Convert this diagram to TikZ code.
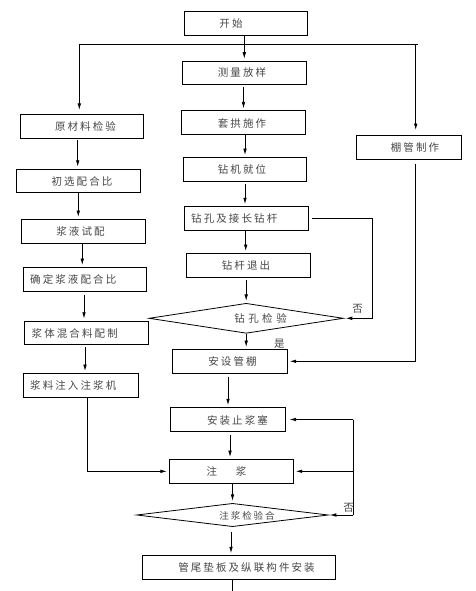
\documentclass[tikz,border=0pt]{standalone}
\usepackage{fontspec}
\newfontfamily\cjk[LetterSpace=20]{Noto Sans CJK SC}
\usetikzlibrary{arrows.meta,shapes.geometric}
\begin{document}
\begin{tikzpicture}[x=1pt,y=-1pt,
  box/.style={draw,line width=0.8pt,minimum width=#1,minimum height=23.7pt,inner sep=0pt},
  dia/.style={draw,shape=diamond,line width=0.8pt,minimum width=#1,inner sep=0pt},
  txt/.style={font=\cjk\fontsize{10.5}{12}\selectfont,text=black!72,inner sep=0pt},
  ln/.style={line width=0.8pt},
  arr/.style={line width=0.8pt,-{Latex[length=6.5pt,width=3.6pt]},shorten >=2pt}]
\fill[white] (0,0) rectangle (476,591);
\useasboundingbox (0,0) rectangle (476,591);

% ---- boxes (centre column)
\node[box=122.7pt] (start)   at (245.7,23.3) {};
\node[box=124pt]   (survey)  at (244.3,73)   {};
\node[box=123.7pt] (arch)    at (243.5,122.7){};
\node[box=122.7pt] (rig)     at (245,169.3)  {};
\node[box=124pt]   (drill)   at (246.3,218.5){};
\node[box=124.3pt] (retract) at (248.2,265.3){};
\node[dia=194.3pt,minimum height=30pt] (chk1) at (246.2,318.3) {};
\node[box=115pt]   (pipe)    at (229.8,361.3){};
\node[box=115.3pt] (plug)    at (228,419.5)  {};
\node[box=124pt]   (grout)   at (231.3,471.3){};
\node[dia=191.7pt,minimum height=23.3pt] (chk2) at (232.5,515) {};
\node[box=193pt]   (tail)    at (238.8,567.5){};
% ---- left column
\node[box=122.7pt] (raw)   at (82,126.2)  {};
\node[box=123.7pt] (init)  at (78.5,181)  {};
\node[box=124pt]   (trial) at (83.3,231.3){};
\node[box=123pt]   (fix)   at (84.8,279.3){};
\node[box=124pt]   (mix)   at (86.3,333)  {};
\node[box=115pt]   (load)  at (80.8,385.3){};
% ---- right column
\node[box=105pt]   (shed)  at (408.8,147.3){};

% ---- texts
\node[txt] (tstart)   at (231,23.3)   {开始};
\node[txt] (tsurvey)  at (242,73)     {测量放样};
\node[txt] (tarch)    at (242,123.5)  {套拱施作};
\node[txt] (trig)     at (242,169.8)  {钻机就位};
\node[txt,anchor=west] (tdrill) at (191,218.5) {钻孔及接长钻杆};
\node[txt] (tretract) at (246,265.5)  {钻杆退出};
\node[txt] (tchk1)    at (260.5,318.5){钻\kern3.5pt孔\kern3.5pt检\kern3.5pt验};
\node[txt] (tpipe)    at (232.5,361.5){安设管棚};
\node[txt] (tplug)    at (237.5,420)  {安装止浆塞};
\node[txt] (tgrout)   at (226.5,471.5){注\hspace{19pt}浆};
\node[txt,font=\cjk\fontsize{9.5}{11}\selectfont] (tchk2) at (247,516) {注浆检验合};
\node[txt] (ttail)    at (246.5,568)  {管尾垫板及纵联构件安装};
\node[txt] (traw)     at (85.5,126.5) {原材料检验};
\node[txt] (tinit)    at (82,181.5)   {初选配合比};
\node[txt] (ttrial)   at (80.5,231.5) {浆液试配};
\node[txt,anchor=west] (tfix)  at (30,279.5)   {确定浆液配合比};
\node[txt,anchor=west] (tmix)  at (31.5,333.3) {浆体混合料配制};
\node[txt,anchor=west] (tload) at (30,385.3)   {浆料注入注浆机};
\node[txt] (tshed)    at (415,147.5)  {棚管制作};
\node[txt] (no1)  at (357.7,309)  {否};
\node[txt] (yes1) at (279.3,343.5){是};
\node[txt] (no2)  at (348.5,507.5){否};

% ---- coordinates
\coordinate (bl)  at (79.3,44);
\coordinate (br)  at (418.3,44);
\coordinate (bra) at (415.7,44);
\coordinate (sc)  at (415.3,361.3);
\coordinate (dl)  at (372.7,218.5);
\coordinate (lc)  at (87.3,471.3);
\coordinate (gl)  at (353.3,419.5);
\coordinate (gb)  at (353.3,515);
\coordinate (endc) at (232.7,591);

% ---- connectors
\draw[ln] (bl) -- (br);
\draw[arr] (start.south -| survey.north) -- (survey.north);
\draw[arr,shorten >=4pt] (bl) -- (bl |- raw.north);
\draw[arr,shorten >=5pt] (bra) -- (bra |- shed.north);
\draw[arr,shorten <=2pt] (survey.south -| arch.north) -- (arch.north);
\draw[arr] (arch.south -| rig.north) -- (rig.north);
\draw[arr,shorten <=2pt] (rig.south) -- (rig.south |- drill.north);
\draw[arr] (drill.south -| 245.7,0) -- (245.7,0 |- retract.north);
\draw[arr,shorten <=2pt] (retract.south -| chk1.north) -- (chk1.north);
\draw[arr] (chk1.south) -- (chk1.south |- pipe.north);
\draw[arr,shorten <=3pt] (pipe.south -| plug.north) -- (plug.north);
\draw[arr,shorten <=3pt] (plug.south -| 230,0) -- (230,0 |- grout.north);
\draw[arr] (grout.south -| chk2.north) -- (chk2.north);
\draw[arr,shorten <=5pt] (chk2.south -| 231,0) -- (231,0 |- tail.north);
\draw[ln] (tail.south -| endc) -- (endc);

\draw[arr,shorten <=2pt] (raw.south -| 77.7,0) -- (77.7,0 |- init.north);
\draw[arr] (init.south -| 78.3,0) -- (78.3,0 |- trial.north);
\draw[arr] (trial.south -| 82.3,0) -- (82.3,0 |- fix.north);
\draw[arr,shorten <=3pt] (fix.south -| 84,0) -- (84,0 |- mix.north);
\draw[arr,shorten <=2pt] (mix.south -| 85,0) -- (85,0 |- load.north);
\draw[arr] (load.south -| lc) -- (lc) -- (grout.west);

\draw[arr,shorten <=4pt] (shed.south -| sc) -- (sc) -- (pipe.east);
\draw[arr,shorten <=3pt] (drill.east) -- (dl) -- (dl |- chk1.east) -- (chk1.east);

\draw[ln] (gl) -- (gb);
\draw[arr,shorten >=3.5pt] (gl) -- (plug.east);
\draw[arr] (gl |- grout.east) -- (grout.east);
\draw[arr,shorten >=1pt] (gb) -- (chk2.east);
\end{tikzpicture}
\end{document}
